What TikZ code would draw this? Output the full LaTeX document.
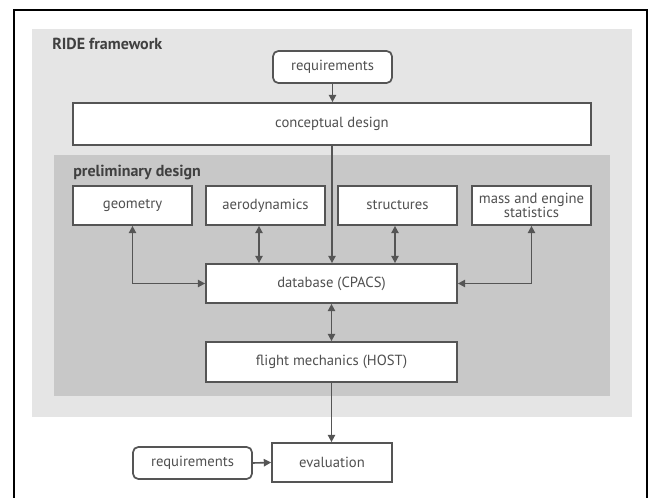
\documentclass[tikz,border=0pt]{standalone}
\usepackage{fontspec}
\setmainfont{PT Sans}
\usetikzlibrary{arrows.meta,positioning,calc}
\definecolor{framegray}{HTML}{E5E5E5}
\definecolor{prelimgray}{HTML}{C8C8C8}
\definecolor{edgegray}{HTML}{555555}
\definecolor{textgray}{HTML}{505050}
\definecolor{titlegray}{HTML}{404040}
\tikzset{
  box/.style={draw=edgegray, line width=1.3pt, fill=white, inner sep=0pt,
    align=center, text=textgray, font=\fontsize{11}{12}\selectfont},
  reqbox/.style={box, rounded corners=4pt},
  link/.style={draw=edgegray, line width=1.2pt, -{Triangle[length=5.5pt,width=5.5pt]}},
  duplex/.style={draw=edgegray, line width=1.2pt,
    {Triangle[length=5.5pt,width=5.5pt]}-{Triangle[length=5.5pt,width=5.5pt]}},
  grouptitle/.style={anchor=west, inner sep=0pt, text=titlegray,
    font=\fontsize{12}{14}\selectfont\bfseries}
}
\begin{document}
\begin{tikzpicture}[x=0.75pt, y=-0.75pt]
  \useasboundingbox (0,0) rectangle (651,498);
  % frame around the figure, open at the bottom
  \draw[line width=1.6pt, black] (14,505) -- (14,10) -- (647,10) -- (647,505);
  % group backgrounds
  \fill[framegray] (32,29) rectangle (632,417);
  \fill[prelimgray] (54,155) rectangle (610,396);
  \node[grouptitle] (ridetitle) at (52,44) {RIDE framework};
  \node[grouptitle] (prelimtitle) at (73,173) {preliminary design};

  % process blocks
  \node[reqbox, minimum width=89.25pt, minimum height=24pt] (req) at (332.5,67) {requirements};
  \node[box, minimum width=388.5pt, minimum height=31.5pt] (concept) at (332,124) {conceptual design};
  \node[box, minimum width=89.25pt, minimum height=29.25pt] (geom) at (132.5,205.5) {geometry};
  \node[box, minimum width=89.25pt, minimum height=29.25pt] (aero) at (265.5,205.5) {aerodynamics};
  \node[box, minimum width=89.25pt, minimum height=29.25pt] (struct) at (397.5,205.5) {structures};
  \node[box, minimum width=89.25pt, minimum height=29.25pt, font=\fontsize{11}{10.8}\selectfont] (mass) at (531.5,205.5) {mass and engine\\statistics};
  \node[box, minimum width=188.25pt, minimum height=29.25pt] (db) at (331.5,283.5) {database (CPACS)};
  \node[box, minimum width=188.25pt, minimum height=30pt] (flight) at (331.5,362) {flight mechanics (HOST)};
  \node[box, minimum width=90pt, minimum height=29.25pt] (eval) at (332,462.5) {evaluation};
  \node[reqbox, minimum width=89.25pt, minimum height=24pt] (reqeval) at (192.5,463) {requirements};

  % connectors
  \draw[link] (req.south) -- (req.south |- concept.north);
  \draw[link] (concept.south) -- (concept.south |- db.north);
  \draw[duplex] (geom.south) |- (db.west);
  \draw[duplex] ([xshift=-4.875pt]aero.south) -- ([xshift=-4.875pt]aero.south |- db.north);
  \draw[duplex] ([xshift=-1.875pt]struct.south) -- ([xshift=-1.875pt]struct.south |- db.north);
  \draw[duplex] (mass.south) |- (db.east);
  \draw[duplex] (db.south) -- (flight.north);
  \draw[link] (flight.south) -- (flight.south |- eval.north);
  \draw[link] (reqeval.east) -- (eval.west);
\end{tikzpicture}
\end{document}
